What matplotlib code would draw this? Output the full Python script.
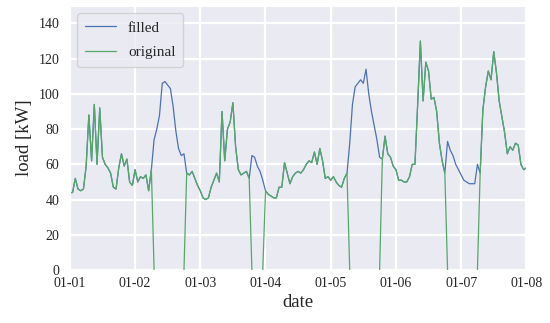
import numpy as np
import pandas as pd
import matplotlib
matplotlib.use("Agg")
import matplotlib.pyplot as plt
import matplotlib.dates as mdates
import seaborn as sns

nan = np.nan

# hourly load [kW], 0 = start/end of a missing block, nan = missing
day_01 = [44, 44, 52, 46, 45, 46, 59, 88, 62, 94, 60, 92, 64, 60, 58, 55, 47, 46, 58, 66, 59, 63, 50, 48]
day_02 = [57, 50, 53, 52, 54, 45, 57, 0, nan, nan, nan, nan, nan, nan, nan, nan, nan, nan, 0, 55, 54, 56, 52, 48]
day_03 = [45, 41, 40, 41, 47, 51, 55, 50, 90, 62, 80, 84, 95, 70, 57, 54, 55, 56, 52, 0, nan, nan, nan, 0]
day_04 = [45, 43, 42, 41, 41, 47, 47, 61, 55, 49, 53, 55, 56, 55, 57, 60, 62, 61, 67, 60, 69, 62, 52, 53]
day_05 = [51, 53, 50, 48, 47, 52, 55, 0, nan, nan, nan, nan, nan, nan, nan, nan, nan, nan, 0, 63, 76, 66, 64, 59]
day_06 = [57, 51, 51, 50, 50, 53, 60, 60, 94, 130, 96, 118, 113, 97, 98, 90, 72, 62, 55, 0, nan, nan, nan, nan]
day_07 = [nan, nan, nan, nan, nan, nan, 0, 55, 91, 104, 113, 108, 124, 112, 96, 87, 78, 66, 70, 68, 72, 71, 60, 57, 58]

# values used to fill each missing block
fill_1 = [74, 80, 88, 106, 107, 105, 103, 93, 79, 69, 65, 66]
fill_2 = [65, 64, 59, 56, 51]
fill_3 = [72, 94, 104, 106, 108, 106, 114, 100, 90, 82, 74, 64]
fill_4 = [73, 68, 65, 60, 57, 54, 51, 50, 49, 49, 49, 60]

original = np.array(day_01 + day_02 + day_03 + day_04 + day_05 + day_06 + day_07, dtype=float)
filled = original.copy()
missing = np.isnan(original) | (original == 0)
filled[missing] = fill_1 + fill_2 + fill_3 + fill_4

times = pd.date_range("2020-01-01", periods=len(original), freq="h")

sns.set_style("darkgrid")
plt.rcParams["font.family"] = ["Liberation Serif", "DejaVu Serif"]

fig = plt.figure(figsize=(5.5, 3.23), dpi=100)
ax = fig.add_axes([0.127, 0.164, 0.83, 0.818])

ax.plot(times, filled, color="#4C72B0", lw=0.9, label="filled")
ax.plot(times, original, color="#55A868", lw=0.9, label="original")

ax.set_xlim(times[0], times[-1])
ax.set_ylim(0, 150)
ax.set_yticks(range(0, 141, 20))
ax.xaxis.set_major_locator(mdates.DayLocator())
ax.xaxis.set_major_formatter(mdates.DateFormatter("%m-%d"))
ax.grid(color="white", lw=1.6)
ax.tick_params(axis="x", length=0, pad=5, labelsize=10)
ax.tick_params(axis="y", length=0, pad=7.5, labelsize=10)
ax.set_xlabel("date", fontsize=13.5, labelpad=3)
ax.set_ylabel("load [kW]", fontsize=13.5)

ax.legend(loc="upper left", fontsize=11, labelspacing=0.7, borderpad=0.5)

fig.savefig("out.png", dpi=100)
